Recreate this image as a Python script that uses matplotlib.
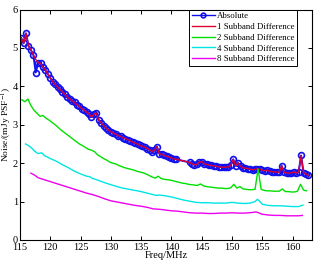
import numpy as np
import matplotlib
matplotlib.use('Agg')
import matplotlib.pyplot as plt

plt.rcParams['font.family'] = ['Liberation Serif', 'DejaVu Serif']
plt.rcParams['mathtext.fontset'] = 'stix'

# Absolute noise (two frequency blocks)
freq_abs_a = np.round(np.arange(115.2, 140.81, 0.4), 1)
abs_a = [5.26, 5.12, 5.38, 5.05, 4.95, 4.82, 4.36, 4.62, 4.60, 4.50,
         4.42, 4.32, 4.22, 4.12, 4.05, 3.98, 3.92, 3.85, 3.80, 3.72,
         3.68, 3.62, 3.58, 3.52, 3.48, 3.42, 3.38, 3.33, 3.28, 3.20,
         3.28, 3.30, 3.12, 3.05, 2.98, 2.92, 2.86, 2.82, 2.78, 2.76,
         2.72, 2.70, 2.66, 2.64, 2.61, 2.58, 2.55, 2.52, 2.50, 2.46,
         2.44, 2.42, 2.38, 2.35, 2.30, 2.34, 2.43, 2.25, 2.23, 2.20,
         2.18, 2.16, 2.14, 2.11, 2.10]
freq_abs_b = np.round(np.arange(143.0, 162.61, 0.4), 1)
abs_b = [2.02, 1.98, 1.96, 1.97, 2.03, 2.04, 1.98, 1.97, 1.95, 1.94,
         1.93, 1.92, 1.90, 1.90, 1.89, 1.90, 1.90, 1.95, 2.10, 1.93,
         2.01, 1.92, 1.88, 1.87, 1.86, 1.84, 1.83, 1.84, 1.85, 1.84,
         1.82, 1.80, 1.82, 1.79, 1.78, 1.77, 1.77, 1.76, 1.93, 1.76,
         1.75, 1.74, 1.75, 1.77, 1.74, 1.78, 2.20, 1.75, 1.72, 1.68]

freq_abs = np.concatenate([freq_abs_a, freq_abs_b])
absolute = np.array(abs_a + abs_b)

# 1 subband difference follows the absolute curve, without the 117.6 MHz dip
sub1 = absolute.copy()
sub1[6] = 4.70

freq_sub2 = np.round(np.arange(115.3, 162.31, 0.5), 1)
sub2 = [3.65, 3.60, 3.67, 3.50, 3.38, 3.30, 3.22, 3.24, 3.17, 3.12,
        3.06, 3.00, 2.93, 2.86, 2.80, 2.74, 2.68, 2.62, 2.56, 2.50,
        2.46, 2.41, 2.36, 2.34, 2.30, 2.22, 2.17, 2.12, 2.08, 2.03,
        2.00, 1.98, 1.94, 1.91, 1.88, 1.86, 1.84, 1.82, 1.79, 1.77,
        1.75, 1.72, 1.68, 1.64, 1.61, 1.66, 1.60, 1.58, 1.57, 1.56,
        1.54, 1.52, 1.50, 1.48, 1.47, 1.45, 1.44, 1.43, 1.42, 1.46,
        1.41, 1.39, 1.38, 1.37, 1.36, 1.35, 1.35, 1.34, 1.34, 1.36,
        1.45, 1.35, 1.39, 1.33, 1.32, 1.31, 1.31, 1.32, 1.85, 1.32,
        1.29, 1.28, 1.28, 1.27, 1.27, 1.27, 1.33, 1.26, 1.26, 1.25,
        1.25, 1.27, 1.45, 1.30, 1.28]

freq_sub4 = [115.9, 116.5, 117.0, 117.5, 118.0, 118.6, 119.0, 120.0, 121.0, 122.0,
             123.0, 124.0, 125.0, 126.0, 126.5, 127.0, 128.0, 129.0, 130.0, 131.0,
             132.0, 133.0, 134.0, 135.0, 136.0, 137.0, 137.5, 138.0, 139.0, 140.0,
             141.0, 142.0, 143.0, 144.0, 145.0, 146.0, 147.0, 148.0, 149.0, 150.0,
             151.0, 152.0, 153.0, 153.8, 154.2, 154.6, 155.0, 156.0, 157.0, 158.0,
             159.0, 160.0, 161.0, 161.7]
sub4 = [2.50, 2.45, 2.38, 2.30, 2.25, 2.27, 2.20, 2.12, 2.05, 1.96,
        1.88, 1.79, 1.72, 1.66, 1.65, 1.60, 1.55, 1.49, 1.44, 1.39,
        1.35, 1.32, 1.29, 1.26, 1.22, 1.18, 1.16, 1.17, 1.15, 1.12,
        1.08, 1.04, 1.01, 0.98, 0.97, 0.97, 0.96, 0.96, 0.96, 0.98,
        0.96, 0.95, 0.96, 1.00, 1.06, 1.00, 0.93, 0.90, 0.89, 0.89,
        0.88, 0.87, 0.87, 0.91]

freq_sub8 = [116.8, 117.5, 118.0, 119.0, 120.0, 121.0, 122.0, 123.0, 124.0, 125.0,
             126.0, 127.0, 128.0, 129.0, 130.0, 131.0, 132.0, 133.0, 134.0, 135.0,
             136.0, 137.0, 138.0, 139.0, 140.0, 141.0, 142.0, 143.0, 144.0, 145.0,
             146.0, 147.0, 148.0, 149.0, 150.0, 151.0, 152.0, 153.0, 154.0, 155.0,
             156.0, 157.0, 158.0, 159.0, 160.0, 161.0, 161.6]
sub8 = [1.74, 1.68, 1.62, 1.57, 1.52, 1.47, 1.42, 1.37, 1.32, 1.27,
        1.22, 1.18, 1.13, 1.07, 1.02, 0.99, 0.96, 0.93, 0.90, 0.88,
        0.85, 0.81, 0.80, 0.78, 0.76, 0.75, 0.73, 0.71, 0.70, 0.70,
        0.69, 0.69, 0.70, 0.70, 0.71, 0.70, 0.70, 0.71, 0.73, 0.67,
        0.65, 0.64, 0.64, 0.63, 0.63, 0.63, 0.64]

fig = plt.figure(figsize=(3.2, 2.61), dpi=100)
ax = fig.add_axes([0.0625, 0.0805, 0.9125, 0.883])

ax.plot(freq_abs, absolute, 'o-', color='#1010ee', markersize=4.2, markerfacecolor='none',
        markeredgewidth=1.2, linewidth=1.4, label='Absolute')
ax.plot(freq_abs, sub1, '-', color='#e00030', linewidth=1.0, label='1 Subband Difference')
ax.plot(freq_sub2, sub2, '-', color='#00e000', linewidth=1.0, label='2 Subband Difference')
ax.plot(freq_sub4, sub4, '-', color='#00e5e5', linewidth=1.0, label='4 Subband Difference')
ax.plot(freq_sub8, sub8, '-', color='#ee00ee', linewidth=1.0, label='8 Subband Difference')

ax.set_xlim(115, 163.2)
ax.set_ylim(0, 6)
ax.set_xticks(np.arange(115, 161, 5))
ax.set_yticks(np.arange(0, 7, 1))
ax.tick_params(direction='in', top=True, right=True, length=3, width=0.7,
               labelsize=7.5, pad=1.5)
ax.tick_params(axis='x', pad=2.5)
for s in ax.spines.values():
    s.set_linewidth(0.8)

ax.set_xlabel('Freq/MHz', fontsize=7.5, labelpad=-1)
ax.set_ylabel(r'Noise/(mJy PSF$^{-1}$)', fontsize=6.8)
ax.yaxis.set_label_coords(-0.02, 0.5)

leg = ax.legend(loc='upper right', bbox_to_anchor=(0.95, 1.0), borderaxespad=0,
                fontsize=6.3, fancybox=False, framealpha=1, edgecolor='black',
                handlelength=2.6, handletextpad=0.3, labelspacing=0.3,
                borderpad=0.3, markerscale=0.8)
leg.get_frame().set_linewidth(0.7)
for line in leg.get_lines():
    line.set_linewidth(1.0)

fig.savefig('out.png', dpi=100)
